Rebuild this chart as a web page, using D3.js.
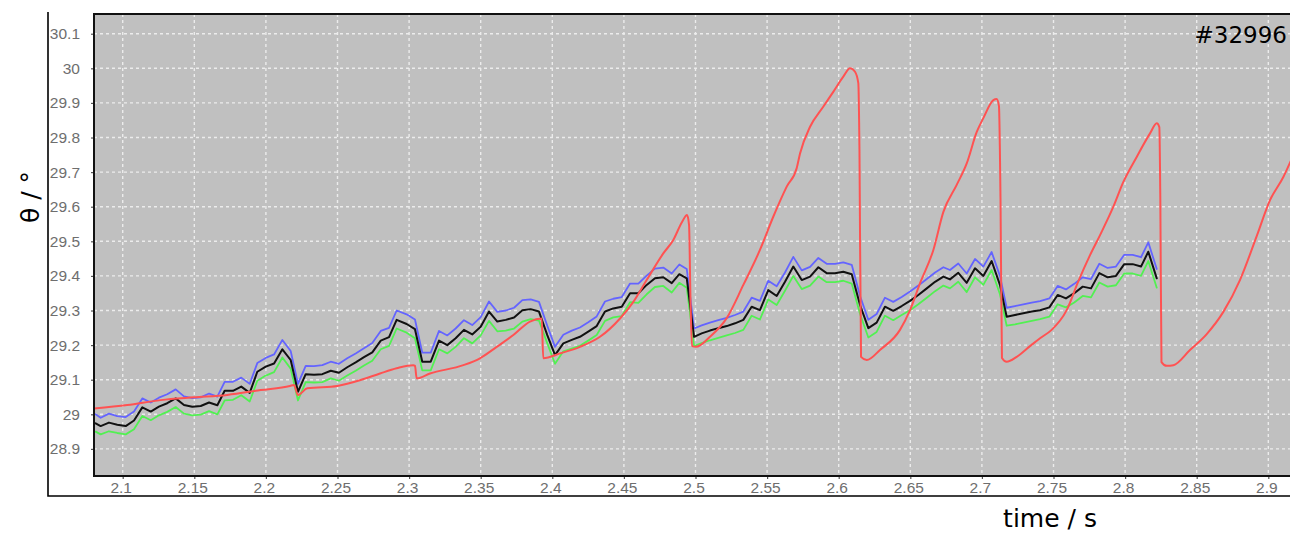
<!DOCTYPE html>
<html><head><meta charset="utf-8">
<script src="https://cdn.jsdelivr.net/npm/d3@7"></script>
<style>
html,body{margin:0;padding:0;background:#fff;}
svg{display:block;}
</style></head><body>
<svg id="c" width="1290" height="533"></svg>
<script>
// ---- data ----
const xTicks = [2.1,2.15,2.2,2.25,2.3,2.35,2.4,2.45,2.5,2.55,2.6,2.65,2.7,2.75,2.8,2.85,2.9];
const xTickLabels = ["2.1","2.15","2.2","2.25","2.3","2.35","2.4","2.45","2.5","2.55","2.6","2.65","2.7","2.75","2.8","2.85","2.9"];
const yTicks = [28.9,29,29.1,29.2,29.3,29.4,29.5,29.6,29.7,29.8,29.9,30,30.1];
const yTickLabels = ["28.9","29","29.1","29.2","29.3","29.4","29.5","29.6","29.7","29.8","29.9","30","30.1"];

const lineT = [2.0811,2.0846,2.0904,2.0962,2.1021,2.1079,2.1137,2.1196,2.1253,2.1311,
2.1370,2.1428,2.1486,2.1545,2.1603,2.1661,2.1712,2.1770,2.1828,2.1887,
2.1940,2.1999,2.2057,2.2115,2.2173,2.2224,2.2278,2.2336,2.2394,2.2453,
2.2510,2.2568,2.2627,2.2685,2.2743,2.2802,2.2860,2.2913,2.2983,2.3041,
2.3092,2.3151,2.3209,2.3267,2.3325,2.3383,2.3441,2.3500,2.3558,2.3616,
2.3675,2.3733,2.3791,2.3849,2.3907,2.3965,2.4019,2.4077,2.4136,2.4193,
2.4251,2.4310,2.4368,2.4426,2.4485,2.4543,2.4601,2.4659,2.4717,2.4775,
2.4834,2.4887,2.4939,2.4990,2.5043,2.5101,2.5159,2.5218,2.5276,2.5334,
2.5392,2.5450,2.5508,2.5567,2.5625,2.5683,2.5742,2.5800,2.5858,2.5916,
2.5974,2.6032,2.6091,2.6149,2.6207,2.6265,2.6323,2.6381,2.6440,2.6498,
2.6556,2.6615,2.6673,2.6731,2.6777,2.6835,2.6894,2.6952,2.7010,2.7068,
2.7126,2.7173,2.7231,2.7289,2.7348,2.7406,2.7471,2.7529,2.7587,2.7645,
2.7704,2.7762,2.7820,2.7878,2.7936,2.7994,2.8053,2.8111,2.8162,2.8221];

const blackV = [28.974,28.966,28.976,28.970,28.966,28.982,29.020,29.008,29.022,29.032,
29.046,29.027,29.022,29.024,29.034,29.026,29.068,29.068,29.080,29.062,
29.123,29.138,29.147,29.188,29.157,29.065,29.116,29.114,29.116,29.126,
29.120,29.136,29.150,29.165,29.179,29.213,29.223,29.273,29.261,29.246,
29.152,29.152,29.213,29.200,29.220,29.244,29.231,29.253,29.297,29.268,
29.273,29.280,29.301,29.304,29.297,29.229,29.171,29.205,29.215,29.224,
29.239,29.255,29.297,29.306,29.311,29.350,29.350,29.374,29.393,29.396,
29.379,29.405,29.393,29.224,29.234,29.242,29.249,29.255,29.263,29.273,
29.311,29.301,29.359,29.342,29.383,29.427,29.388,29.398,29.425,29.408,
29.408,29.412,29.405,29.316,29.249,29.265,29.311,29.299,29.313,29.328,
29.345,29.364,29.383,29.398,29.390,29.409,29.380,29.422,29.400,29.443,
29.374,29.282,29.287,29.292,29.297,29.301,29.309,29.345,29.335,29.350,
29.369,29.364,29.408,29.396,29.400,29.434,29.434,29.427,29.470,29.393];

const blueV = [29.000,28.990,29.002,28.995,28.992,29.008,29.046,29.034,29.048,29.058,
29.072,29.052,29.047,29.049,29.060,29.051,29.094,29.094,29.106,29.088,
29.148,29.163,29.173,29.215,29.183,29.088,29.140,29.139,29.142,29.152,
29.146,29.162,29.176,29.191,29.206,29.241,29.250,29.300,29.289,29.274,
29.178,29.178,29.241,29.228,29.248,29.272,29.258,29.281,29.326,29.296,
29.300,29.308,29.330,29.332,29.325,29.256,29.195,29.230,29.242,29.251,
29.266,29.283,29.326,29.334,29.339,29.378,29.378,29.401,29.421,29.424,
29.407,29.433,29.420,29.248,29.257,29.265,29.272,29.279,29.287,29.297,
29.337,29.328,29.386,29.370,29.410,29.455,29.416,29.426,29.452,29.435,
29.435,29.439,29.432,29.342,29.273,29.290,29.337,29.325,29.339,29.355,
29.372,29.391,29.410,29.425,29.417,29.436,29.407,29.449,29.427,29.469,
29.400,29.308,29.313,29.318,29.323,29.327,29.335,29.371,29.361,29.377,
29.396,29.391,29.435,29.423,29.427,29.461,29.461,29.454,29.497,29.420];

const greenV = [28.950,28.942,28.951,28.946,28.942,28.957,28.995,28.983,28.997,29.007,
29.021,29.002,28.997,28.999,29.009,29.000,29.040,29.042,29.055,29.037,
29.097,29.112,29.122,29.164,29.132,29.040,29.093,29.092,29.093,29.104,
29.097,29.112,29.126,29.141,29.155,29.188,29.198,29.248,29.236,29.220,
29.127,29.127,29.188,29.176,29.195,29.220,29.205,29.228,29.270,29.240,
29.242,29.248,29.268,29.275,29.271,29.205,29.146,29.182,29.190,29.198,
29.213,29.229,29.270,29.280,29.284,29.324,29.322,29.347,29.368,29.371,
29.352,29.380,29.366,29.197,29.206,29.214,29.221,29.228,29.235,29.244,
29.285,29.274,29.332,29.316,29.357,29.400,29.362,29.372,29.398,29.382,
29.382,29.386,29.378,29.290,29.222,29.238,29.285,29.272,29.287,29.301,
29.318,29.337,29.356,29.372,29.364,29.383,29.353,29.396,29.374,29.417,
29.347,29.256,29.260,29.265,29.270,29.275,29.282,29.318,29.309,29.323,
29.342,29.338,29.381,29.369,29.373,29.407,29.407,29.400,29.443,29.366];

const redT = [2.0800,2.1032,2.1265,2.1498,2.1730,2.1964,2.2168,2.2196,2.2224,2.2289,
2.2499,2.2662,2.2797,2.2913,2.3029,2.3041,2.3053,2.3146,2.3379,2.3495,
2.3612,2.3728,2.3844,2.3926,2.3937,2.4054,2.4193,2.4333,2.4473,2.4566,
2.4659,2.4775,2.4845,2.4906,2.4941,2.4955,2.4965,2.4976,2.5004,2.5101,
2.5218,2.5334,2.5450,2.5543,2.5637,2.5707,2.5730,2.5800,2.5892,2.5962,
2.6032,2.6079,2.6114,2.6137,2.6145,2.6156,2.6196,2.6288,2.6428,2.6498,
2.6568,2.6661,2.6731,2.6824,2.6894,2.6964,2.7010,2.7080,2.7103,2.7119,
2.7130,2.7140,2.7173,2.7243,2.7336,2.7406,2.7487,2.7592,2.7671,2.7755,
2.7825,2.7918,2.7987,2.8081,2.8174,2.8221,2.8239,2.8246,2.8254,2.8291,
2.8337,2.8453,2.8570,2.8686,2.8802,2.8919,2.9012,2.9105,2.9166];
const redV = [29.017,29.027,29.041,29.049,29.056,29.070,29.082,29.085,29.056,29.075,
29.082,29.099,29.118,29.133,29.142,29.140,29.104,29.118,29.142,29.162,
29.195,29.229,29.268,29.277,29.162,29.176,29.195,29.224,29.277,29.325,
29.388,29.465,29.504,29.556,29.576,29.547,29.330,29.197,29.195,29.224,
29.278,29.374,29.475,29.571,29.658,29.712,29.754,29.831,29.889,29.932,
29.976,30.000,29.990,29.957,29.764,29.166,29.157,29.186,29.244,29.301,
29.379,29.475,29.585,29.663,29.725,29.816,29.856,29.908,29.911,29.891,
29.619,29.163,29.152,29.166,29.197,29.220,29.244,29.301,29.382,29.460,
29.518,29.600,29.671,29.744,29.812,29.841,29.830,29.619,29.151,29.140,
29.142,29.186,29.232,29.296,29.388,29.515,29.619,29.686,29.741];

const shotLabel = "#32996";
const xTitle = "time / s";
const yTitle = "θ / °";

// ---- drawing ----
const svg = d3.select('#c');
const L = 94, T = 14, R = 1290, B = 476;
const x = d3.scaleLinear().domain([2.07996, 2.91515]).range([L, R]);
const y = d3.scaleLinear().domain([28.8217, 30.157]).range([B, T]);

// plot background
svg.append('rect').attr('x', L).attr('y', T).attr('width', R - L + 10).attr('height', B - T).attr('fill', '#c0c0c0');

svg.append('defs').append('clipPath').attr('id', 'clip')
  .append('rect').attr('x', L).attr('y', T).attr('width', R - L + 10).attr('height', B - T);

// grid
const grid = svg.append('g').attr('stroke', '#ececec').attr('stroke-width', 1.4).attr('stroke-dasharray', '3,3');
grid.selectAll('.vx').data(xTicks).join('line')
  .attr('x1', d => x(d)).attr('x2', d => x(d)).attr('y1', T).attr('y2', B);
grid.selectAll('.hy').data(yTicks).join('line')
  .attr('x1', L).attr('x2', R + 10).attr('y1', d => y(d)).attr('y2', d => y(d));

// axes
const fmtX = d => xTickLabels[xTicks.indexOf(d)];
const fmtY = d => yTickLabels[yTicks.indexOf(d)];
const ax = svg.append('g').attr('transform', `translate(0,${B})`)
  .call(d3.axisBottom(x).tickValues(xTicks).tickFormat(fmtX).tickSize(3).tickPadding(3));
const ay = svg.append('g').attr('transform', `translate(${L},0)`)
  .call(d3.axisLeft(y).tickValues(yTicks).tickFormat(fmtY).tickSize(3).tickPadding(11));
[ax, ay].forEach(g => {
  g.select('.domain').remove();
  g.selectAll('.tick line').attr('stroke', '#555').attr('stroke-width', 1.2);
  g.selectAll('.tick text').attr('fill', '#6e6e6e')
    .style('font-family', '"Liberation Sans", Arial, sans-serif').style('font-size', '15.5px');
});
ax.selectAll('.tick text').attr('dx', '-2');

// series
const line = d3.line().x(d => x(d[0])).y(d => y(d[1]));
const smooth = d3.line().x(d => x(d[0])).y(d => y(d[1])).curve(d3.curveMonotoneX);
const g = svg.append('g').attr('clip-path', 'url(#clip)').attr('fill', 'none')
  .attr('stroke-linejoin', 'round').attr('stroke-linecap', 'round');
const toPts = (ts, vs) => ts.map((t, i) => [t, vs[i]]);
g.append('path').attr('d', line(toPts(lineT, greenV))).attr('stroke', '#52f052').attr('stroke-width', 1.8);
g.append('path').attr('d', line(toPts(lineT, blueV))).attr('stroke', '#6464ff').attr('stroke-width', 1.8);
g.append('path').attr('d', line(toPts(lineT, blackV))).attr('stroke', '#111').attr('stroke-width', 2);
g.append('path').attr('d', smooth(toPts(redT, redV))).attr('stroke', '#ff5252').attr('stroke-width', 2);

// plot frame
svg.append('path').attr('d', `M${R + 2},${T}H${L}V${B}H${R + 2}`).attr('fill', 'none')
  .attr('stroke', '#111').attr('stroke-width', 2);
// outer frame
svg.append('path').attr('d', `M48,12V496H${R + 2}`).attr('fill', 'none').attr('stroke', '#000').attr('stroke-width', 1.6);

// texts
svg.append('text').attr('x', 1287).attr('y', 43).attr('text-anchor', 'end')
  .style('font-family', '"DejaVu Sans", sans-serif').style('font-size', '23px').attr('fill', '#000').text(shotLabel);
svg.append('text').attr('x', 1050).attr('y', 527).attr('text-anchor', 'middle')
  .style('font-family', '"DejaVu Sans", sans-serif').style('font-size', '25px').attr('fill', '#000').text(xTitle);
svg.append('text').attr('transform', 'translate(39,197) rotate(-90)').attr('text-anchor', 'middle')
  .style('font-family', '"DejaVu Sans", sans-serif').style('font-size', '25px').attr('fill', '#000').text(yTitle);
</script>
</body></html>
